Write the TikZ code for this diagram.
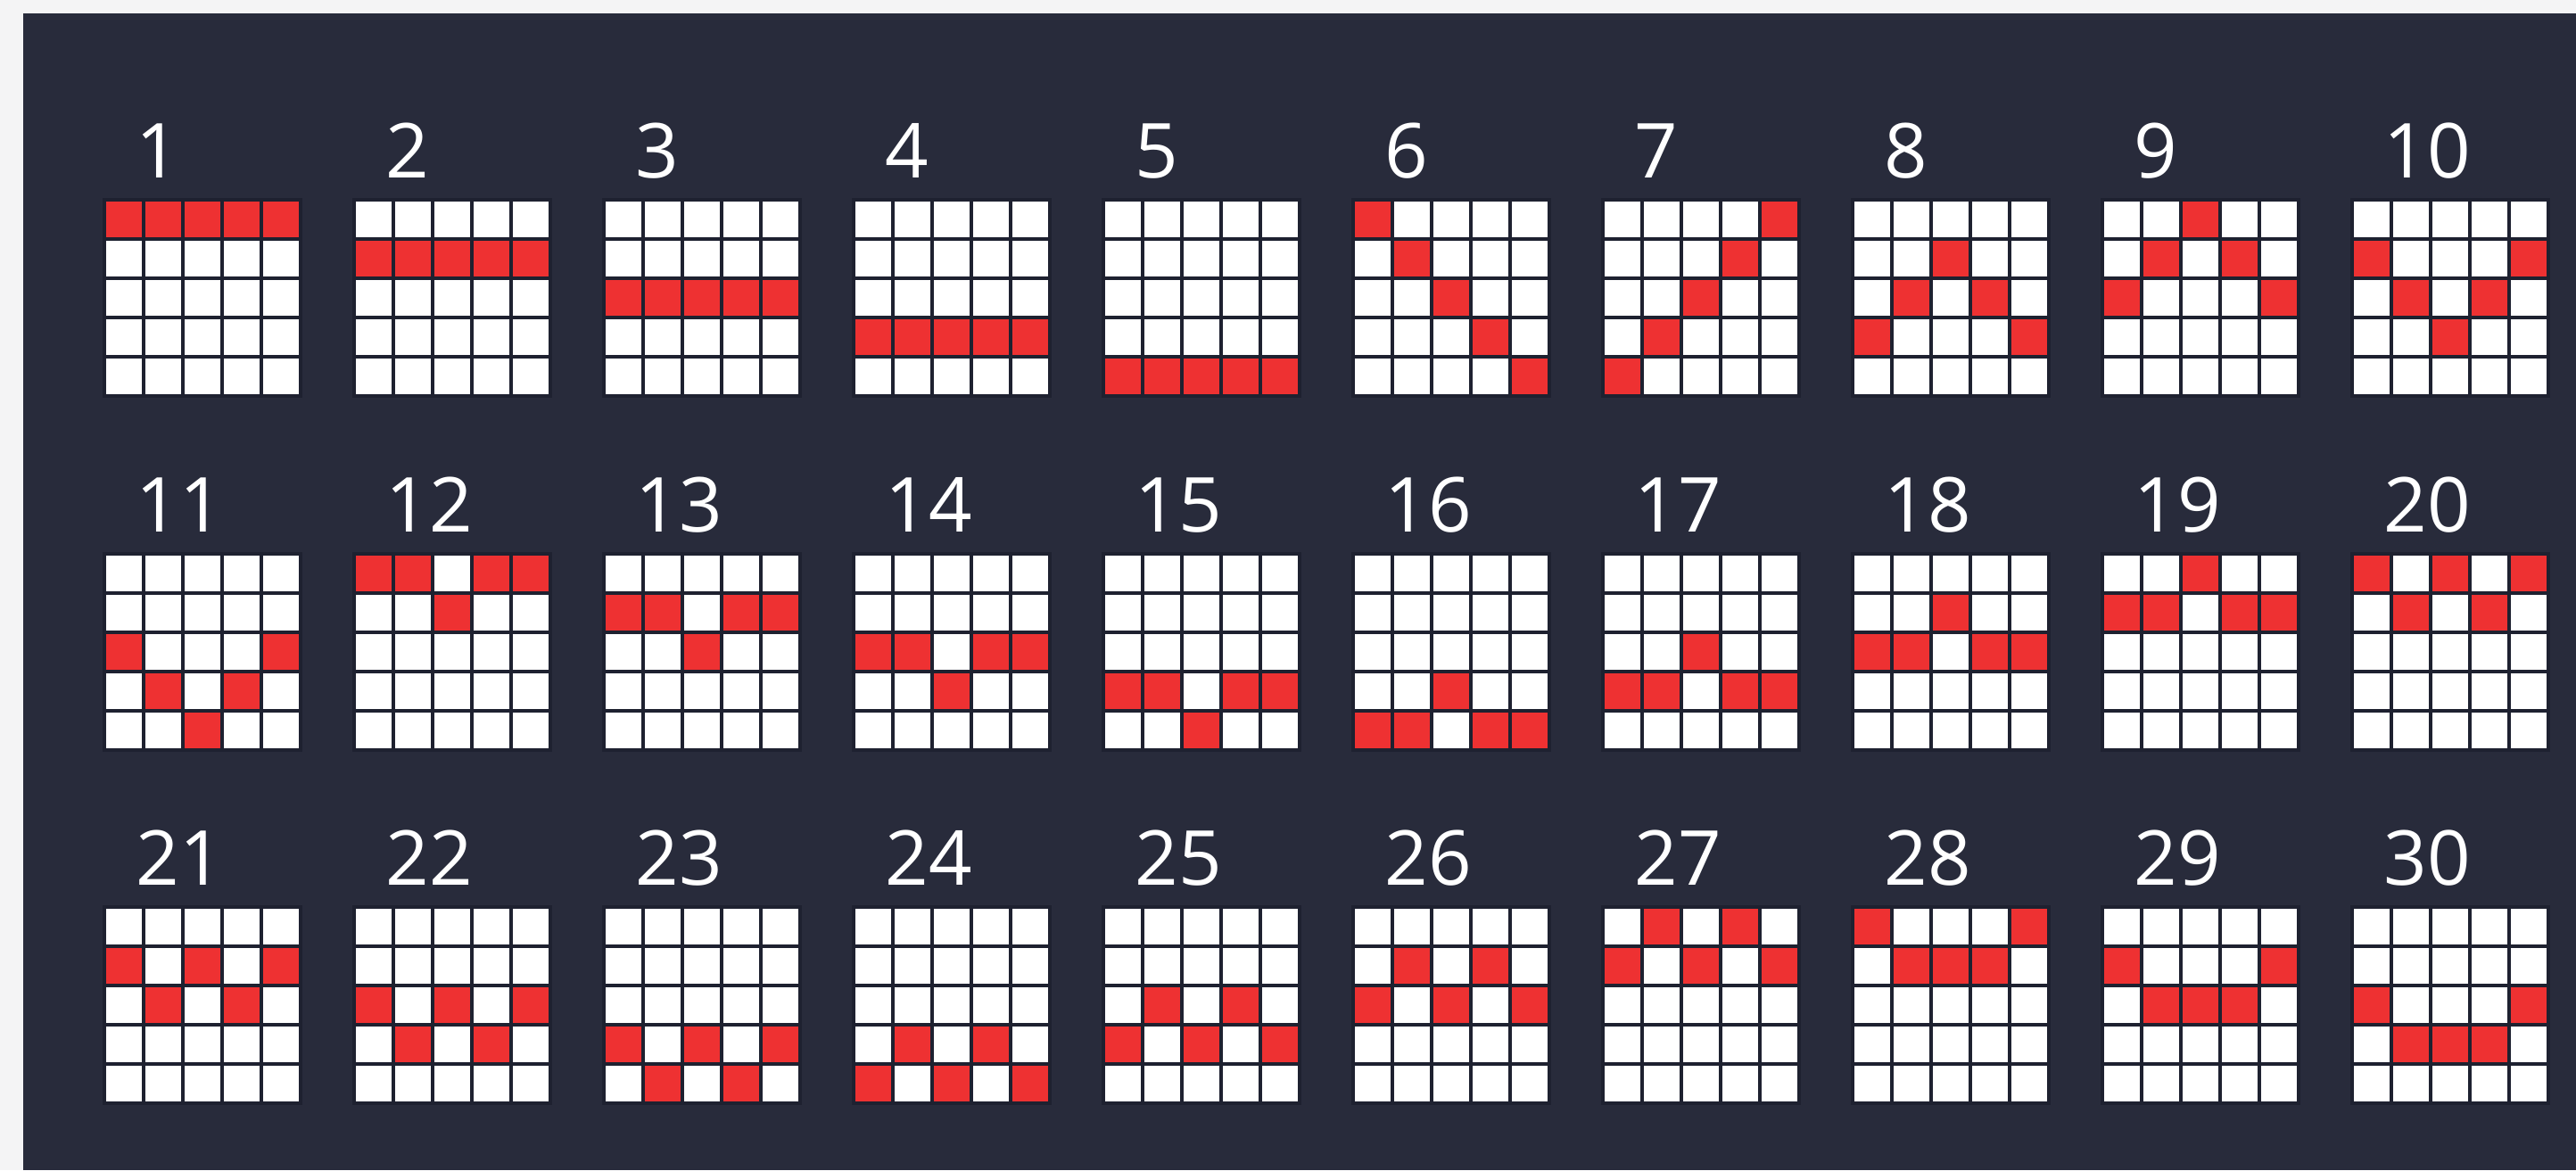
\documentclass[tikz,border=0pt]{standalone}
\usepackage{fontspec}
\setmainfont{Open Sans}
\usepackage{xcolor}
\definecolor{pageGray}{HTML}{F4F4F5}
\definecolor{panelNavy}{HTML}{282B3B}
\definecolor{gridLine}{HTML}{1E2130}
\definecolor{lineRed}{HTML}{EE3132}
\tikzset{
  cell/.style={rectangle, draw=gridLine, line width=0.04cm, minimum size=0.44cm, inner sep=0pt, fill=white},
  hit/.style={cell, fill=lineRed},
  numlabel/.style={anchor=base west, inner sep=0pt, text=white, font=\fontsize{24.2}{29}\selectfont}
}

\begin{document}
\begin{tikzpicture}
  \useasboundingbox (0,0) rectangle (28.88,-13.12);
  \fill[pageGray] (0,0) rectangle (28.88,-13.12);
  \fill[panelNavy] (0.26,-0.15) rectangle (28.88,-13.12);
  % payline number / row of the marked cell in each of the 5 reels
  \foreach \n/\ra/\rb/\rc/\rd/\re in {
      1/0/0/0/0/0, 2/1/1/1/1/1, 3/2/2/2/2/2, 4/3/3/3/3/3, 5/4/4/4/4/4,
      6/0/1/2/3/4, 7/4/3/2/1/0, 8/3/2/1/2/3, 9/2/1/0/1/2, 10/1/2/3/2/1,
      11/2/3/4/3/2, 12/0/0/1/0/0, 13/1/1/2/1/1, 14/2/2/3/2/2, 15/3/3/4/3/3,
      16/4/4/3/4/4, 17/3/3/2/3/3, 18/2/2/1/2/2, 19/1/1/0/1/1, 20/0/1/0/1/0,
      21/1/2/1/2/1, 22/2/3/2/3/2, 23/3/4/3/4/3, 24/4/3/4/3/4, 25/3/2/3/2/3,
      26/2/1/2/1/2, 27/1/0/1/0/1, 28/0/1/1/1/0, 29/1/2/2/2/1, 30/2/3/3/3/2} {
    \pgfmathsetmacro{\gx}{1.15+2.80*mod(\n-1,10)}
    \pgfmathsetmacro{\gy}{-2.22-3.965*div(\n-1,10)}
    \node[numlabel] (num\n) at (\gx+0.37,\gy+0.225) {\n};
    \foreach \ci in {0,...,4}
      \foreach \ri in {0,...,4}
        \node[cell] (l\n-\ci-\ri) at (\gx+0.24+0.44*\ci,\gy-0.24-0.44*\ri) {};
    \foreach \ci/\ri in {0/\ra,1/\rb,2/\rc,3/\rd,4/\re}
      \node[hit] (l\n-hit\ci) at (\gx+0.24+0.44*\ci,\gy-0.24-0.44*\ri) {};
  }
\end{tikzpicture}
\end{document}
